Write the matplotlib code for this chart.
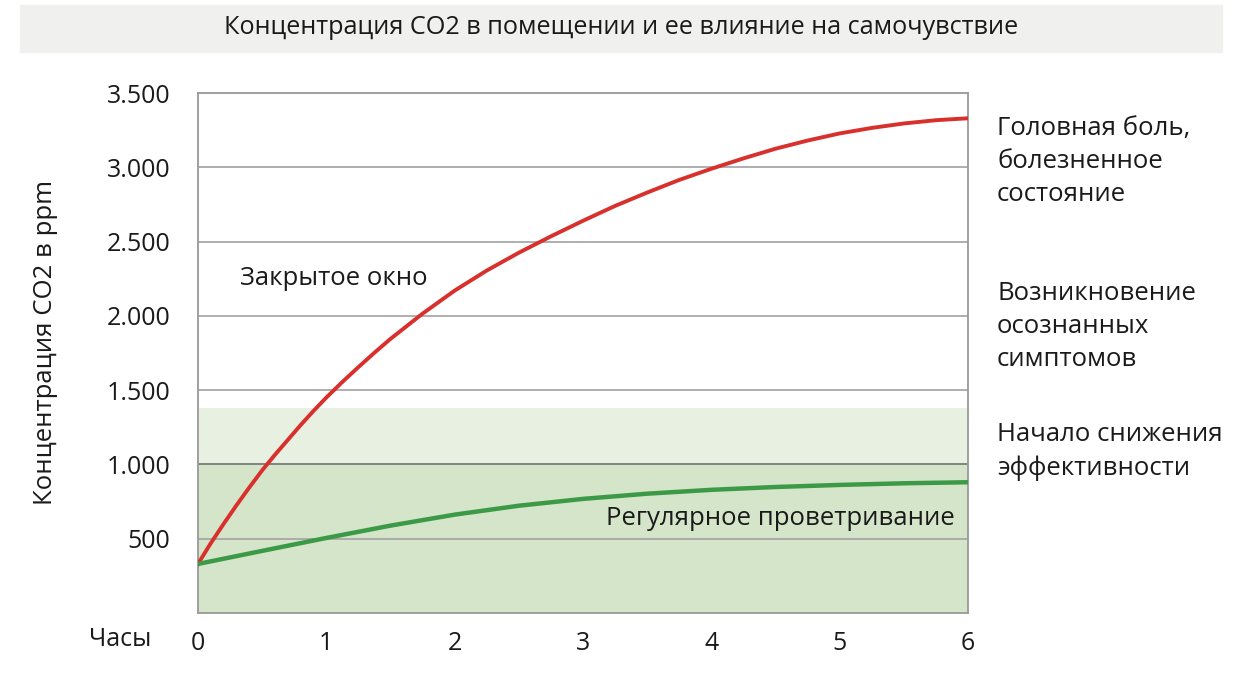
import numpy as np
import matplotlib.pyplot as plt
from matplotlib.patches import Rectangle

plt.rcParams['font.family'] = ['Open Sans', 'DejaVu Sans']

# data
hours = [0, 0.1, 0.2, 0.3, 0.4, 0.5, 0.6, 0.7, 0.8, 0.9, 1.0, 1.125, 1.25, 1.375, 1.5,
         1.75, 2, 2.25, 2.5, 2.75, 3, 3.25, 3.5, 3.75, 4, 4.25, 4.5, 4.75, 5,
         5.25, 5.5, 5.75, 6]
closed = [330, 470, 600, 725, 845, 960, 1065, 1165, 1265, 1360, 1450, 1555, 1655, 1752, 1845,
          2015, 2170, 2305, 2425, 2535, 2640, 2740, 2830, 2915, 2990, 3060, 3125, 3180, 3228,
          3265, 3295, 3317, 3330]
vent_hours = [0, 0.5, 1, 1.5, 2, 2.5, 3, 3.5, 4, 4.5, 5, 5.5, 6]
vent = [330, 418, 505, 588, 662, 722, 768, 803, 829, 848, 862, 873, 880]

yticks = [500, 1000, 1500, 2000, 2500, 3000, 3500]
ylabels = ['500', '1.000', '1.500', '2.000', '2.500', '3.000', '3.500']
xticks = [0, 1, 2, 3, 4, 5, 6]
zone_light = 1380
zone_dark = 1000

right_notes = ['Головная боль,\nболезненное\nсостояние',
               'Возникновение\nосознанных\nсимптомов',
               'Начало снижения\nэффективности']
note_levels = [3040, 1930, 1087]

fig = plt.figure(figsize=(12.42, 6.91), dpi=100)
ax = fig.add_axes([0.1594, 0.1129, 0.62, 0.7525])

# title bar
fig.patches.append(Rectangle((20/1242, 1-52/691), 1202/1242, 47/691,
                             transform=fig.transFigure, color='#f0f0ee', zorder=0))
fig.text(0.5, 1-28/691, 'Концентрация CO2 в помещении и ее влияние на самочувствие',
         ha='center', va='center', fontsize=18.2, color='#1a1a1a')

ax.axhspan(0, zone_light, color='#e7f0e1', lw=0, zorder=0)
ax.axhspan(0, zone_dark, color='#d4e5c9', lw=0, zorder=0)

for y in yticks[:-1]:
    c = '#7a7a7a' if y == 1000 else '#a8a8a8'
    ax.axhline(y, color=c, lw=1.3, zorder=1)

ax.plot(hours, closed, color='#d8302c', lw=2.8, zorder=3)
ax.plot(vent_hours, vent, color='#3c9a47', lw=3.2, zorder=3)

ax.set_xlim(0, 6)
ax.set_ylim(0, 3500)
ax.set_xticks(xticks)
ax.set_yticks(yticks)
ax.set_yticklabels(ylabels)
ax.tick_params(length=0, labelsize=18, colors='#1a1a1a')
ax.tick_params(axis='y', pad=20)
ax.tick_params(axis='x', pad=13)
for s in ax.spines.values():
    s.set_color('#999999')
    s.set_linewidth(1.3)

ax.set_ylabel('Концентрация CO2 в ppm', fontsize=18.5, color='#1a1a1a')
ax.yaxis.set_label_coords(-0.182, 0.521)
fig.text(120/1242, 1-640/691, 'Часы', fontsize=18, ha='center', va='center',
         color='#1a1a1a')

ax.text(0.327, 2252, 'Закрытое окно', fontsize=18.5, va='center', color='#1a1a1a')
ax.text(5.9, 634, 'Регулярное проветривание', fontsize=18.5, va='center', ha='right',
        color='#1a1a1a')

for t, lv in zip(right_notes, note_levels):
    ax.text(6.226, lv, t, fontsize=18.5, va='center', ha='left', color='#1a1a1a',
            linespacing=1.42, clip_on=False)

fig.savefig('out.png', dpi=100)
